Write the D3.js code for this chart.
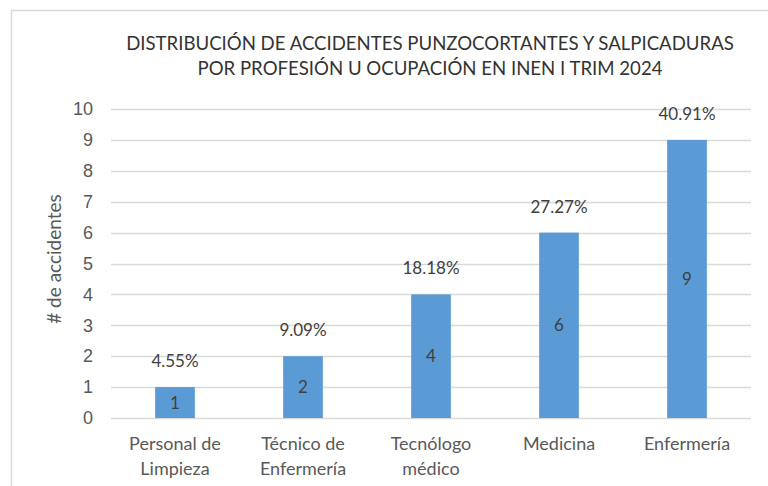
<!DOCTYPE html>
<html><head><meta charset="utf-8">
<script src="https://cdn.jsdelivr.net/npm/d3@7"></script>
<style>
body{margin:0;background:#fff;}
svg{font-family:Lato,"Open Sans",Arial,sans-serif;}
</style></head>
<body>
<svg id="c" width="768" height="486"></svg>
<script>
const categories = [["Personal de","Limpieza"],["Técnico de","Enfermería"],["Tecnólogo","médico"],["Medicina"],["Enfermería"]];
const values = [1,2,4,6,9];
const percents = ["4.55%","9.09%","18.18%","27.27%","40.91%"];
const yTicks = [0,1,2,3,4,5,6,7,8,9,10];
const titleLines = ["DISTRIBUCIÓN DE ACCIDENTES PUNZOCORTANTES Y SALPICADURAS","POR PROFESIÓN U OCUPACIÓN EN INEN I TRIM 2024"];
const yTitle = "# de accidentes";

const svg = d3.select("#c");
const L=111, R=751, T=109, B=418;
const x = d3.scaleBand().domain(d3.range(categories.length)).range([L,R]).padding(0);
const y = d3.scaleLinear().domain([0,10]).range([B,T]);
const bw = x.bandwidth()*0.31;

// border
svg.append("path").attr("d","M11.5,486 V10.5 H768").attr("fill","none").attr("stroke","#d9d9d9").attr("stroke-width",1.5);

// title
svg.append("g").selectAll("text").data(titleLines).join("text")
  .attr("x",430).attr("y",(d,i)=>50+i*25).attr("text-anchor","middle")
  .attr("font-size",18.6).attr("fill","#333333").text(d=>d);

// grid
svg.append("g").selectAll("line").data(yTicks).join("line")
  .attr("x1",L).attr("x2",R).attr("y1",d=>Math.round(y(d))+0.5).attr("y2",d=>Math.round(y(d))+0.5)
  .attr("stroke","#d9d9d9").attr("stroke-width",1.3);

// y axis
const ya = svg.append("g").attr("transform",`translate(${L},0)`)
  .call(d3.axisLeft(y).tickValues(yTicks).tickSize(0).tickPadding(18));
ya.select(".domain").remove();
ya.selectAll("text").attr("font-size",18).attr("fill","#595959").attr("font-family",null);

// y title
svg.append("text").attr("transform","translate(61,259) rotate(-90)").attr("text-anchor","middle")
  .attr("font-size",19).attr("fill","#595959").text(yTitle);

// bars
svg.append("g").selectAll("rect").data(values).join("rect")
  .attr("x",(d,i)=>x(i)+x.bandwidth()/2-bw/2).attr("width",bw)
  .attr("y",d=>y(d)).attr("height",d=>B-y(d)).attr("fill","#5b9bd5");

// value labels
svg.append("g").selectAll("text").data(values).join("text")
  .attr("x",(d,i)=>x(i)+x.bandwidth()/2).attr("y",d=>(y(d)+B)/2+6)
  .attr("text-anchor","middle").attr("font-size",17).attr("fill","#404040").text(d=>d);

// percent labels
svg.append("g").selectAll("text").data(percents).join("text")
  .attr("x",(d,i)=>x(i)+x.bandwidth()/2).attr("y",(d,i)=>y(values[i])-20)
  .attr("text-anchor","middle").attr("font-size",17).attr("fill","#404040").text(d=>d);

// x labels
svg.append("g").selectAll("text").data(categories).join("text")
  .attr("x",(d,i)=>x(i)+x.bandwidth()/2).attr("y",450)
  .attr("text-anchor","middle").attr("font-size",18).attr("fill","#595959")
  .each(function(d){
    const t=d3.select(this);
    d.forEach((s,j)=>t.append("tspan").attr("x",t.attr("x")).attr("dy",j?25:0).text(s));
  });
</script>
</body></html>
